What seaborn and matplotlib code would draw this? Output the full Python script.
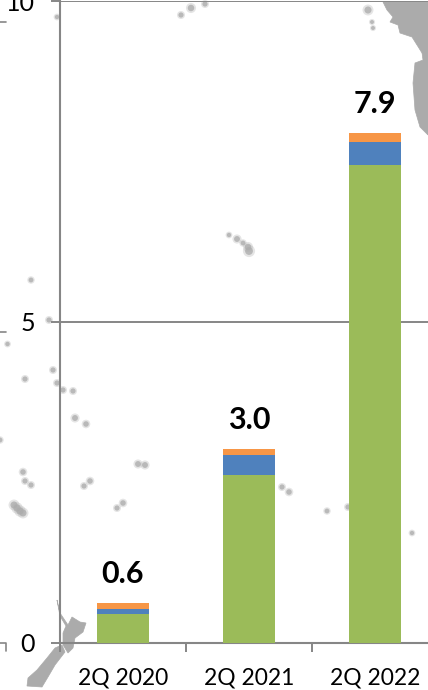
import matplotlib
matplotlib.use("Agg")
import matplotlib.pyplot as plt
import numpy as np
import pandas as pd
import seaborn as sns

# Stacked values per quarter
quarters = ["2Q 2020", "2Q 2021", "2Q 2022"]
green_values = [0.44, 2.62, 7.45]
blue_values = [0.09, 0.30, 0.36]
orange_values = [0.09, 0.10, 0.13]
y_ticks = [0, 5, 10]

GREEN, BLUE, ORANGE = "#9BBB59", "#4F81BD", "#F79646"
LINE = "#868686"
LAND = "#ABABAB"

W, H = 428, 690

# Faint Pacific map behind the plot, in pixel coordinates of the figure
coast = [(383, 2), (387, 10), (393, 17), (390, 22), (398, 25), (400, 33), (412, 37), (422, 53),
         (423, 60), (415, 63), (413, 83), (415, 110), (420, 127), (428, 135), (428, 2)]
gulf = [(399, 37), (408, 39), (416, 47), (421, 56)]
north_island = [(57, 600), (60, 613), (68, 625), (72, 617), (80, 622), (86, 623), (83, 632), (75, 638),
                (73, 648), (68, 653), (63, 645), (63, 633), (66, 626), (60, 616)]
south_island = [(62, 645), (65, 652), (55, 665), (48, 677), (42, 687), (27, 686), (28, 678), (37, 670), (47, 658), (55, 648)]
island_x = [181, 191, 205, 57, 31, 49, 7.5, 25, 53, 57, 63, 73, 75, 86, 0, 23, 25, 31, 14, 17, 20, 23,
            84, 90, 117, 123, 138, 145, 229, 237, 243, 249, 248, 282, 289, 327, 348, 412, 368, 372, 373]
island_y = [15, 8, 4, 17, 280, 320, 344, 379, 370, 383, 390, 391, 418, 424, 440, 472, 481, 485, 505, 508, 511, 513,
            486, 481, 508, 503, 464, 465, 235, 239, 243, 251, 247, 487, 492, 511, 507, 533, 10, 22, 28]
island_size = [14, 22, 14, 10, 12, 14, 10, 14, 14, 14, 14, 14, 18, 16, 12, 16, 14, 14, 26, 28, 28, 26,
               14, 16, 14, 16, 18, 18, 10, 18, 12, 32, 22, 14, 16, 12, 14, 10, 26, 8, 8]

sns.set_theme(style="white")
plt.rcParams["font.family"] = ["Lato", "DejaVu Sans"]

fig = plt.figure(figsize=(W / 100, H / 100), dpi=100, facecolor="white")

backdrop = fig.add_axes([0, 0, 1, 1], zorder=0)
backdrop.set_xlim(0, W)
backdrop.set_ylim(H, 0)
backdrop.axis("off")
for outline in (coast, north_island, south_island):
    backdrop.fill(*zip(*outline), color=LAND, lw=0.5)
backdrop.plot(*zip(*gulf), color="white", lw=1.6, solid_capstyle="round")
backdrop.scatter(island_x, island_y, s=np.array(island_size) * 2.4, color=LAND, alpha=0.3, lw=0)
backdrop.scatter(island_x, island_y, s=np.array(island_size) * 1.0, color=LAND, alpha=0.75, lw=0)
# Stray axis fragments along the left edge
for y in (22, 332):
    backdrop.plot([0, 6], [y, y], color=LINE, lw=1.2)
backdrop.plot([0, 6, 6], [642.5, 642.5, 651], color=LINE, lw=1.2)

# Plot area runs past the right edge of the figure
ax = fig.add_axes([60 / W, 1 - 642.7 / H, 378 / W, 641.5 / H], zorder=1)
ax.patch.set_alpha(0)

frame = pd.DataFrame({"quarter": quarters, "green": green_values, "blue": blue_values, "orange": orange_values})
bottom = np.zeros(len(frame))
for column, colour in [("green", GREEN), ("blue", BLUE), ("orange", ORANGE)]:
    sns.barplot(data=frame, x="quarter", y=column, color=colour, saturation=1, width=0.417,
                bottom=bottom, errorbar=None, ax=ax, zorder=3, linewidth=0)
    bottom = bottom + frame[column].to_numpy()

for i, total in enumerate(bottom):
    ax.annotate(f"{total:.1f}", (i, total), xytext=(0, 21), textcoords="offset points",
                ha="center", va="center", fontsize=22, fontweight="bold", color="black", zorder=4)

ax.set_xlim(-0.5, 2.5)
ax.set_ylim(0, 10)
ax.set_xlabel("")
ax.set_ylabel("")
ax.set_yticks(y_ticks)
ax.set_xticks(np.arange(-0.5, 2.6, 1), minor=True)
ax.grid(axis="y", color=LINE, lw=1.4, zorder=1)
ax.set_axisbelow(True)
ax.tick_params(axis="y", which="major", length=6.5, width=1.4, color=LINE, pad=11.5, labelsize=18, labelcolor="black", left=True)
ax.tick_params(axis="x", which="major", length=0, pad=18, labelsize=16.5, labelcolor="black")
ax.tick_params(axis="x", which="minor", length=6.5, width=1.4, color=LINE, bottom=True)
for name in ("left", "bottom"):
    ax.spines[name].set_color(LINE)
    ax.spines[name].set_linewidth(1.5)
ax.spines["top"].set_visible(False)
ax.spines["right"].set_visible(False)

fig.savefig("out.png", dpi=100, facecolor="white")
